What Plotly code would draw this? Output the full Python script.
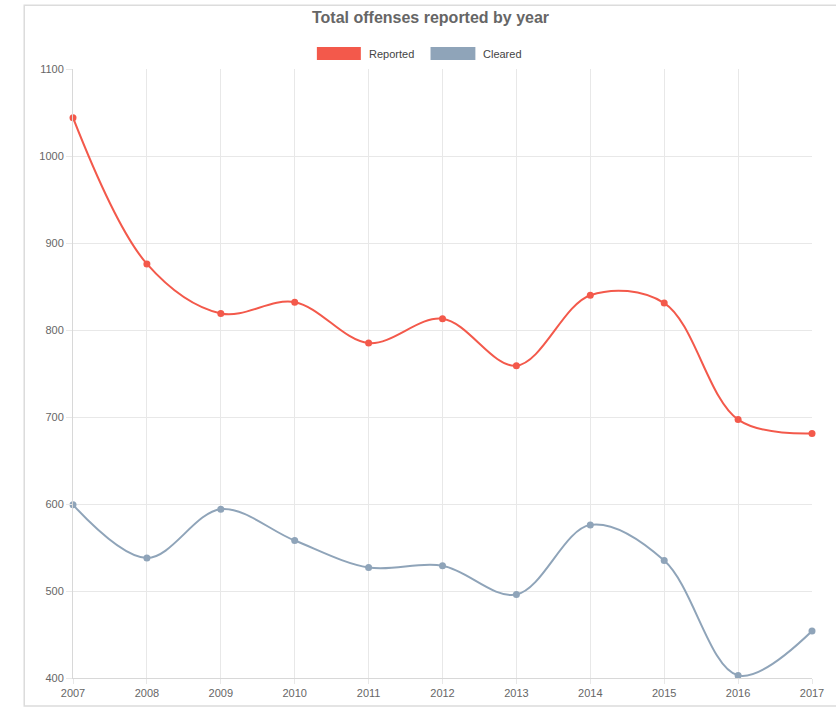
import plotly.graph_objects as go

years = [2007, 2008, 2009, 2010, 2011, 2012, 2013, 2014, 2015, 2016, 2017]
reported = [1044, 876, 819, 832, 785, 813, 759, 840, 831, 697, 681]
cleared = [599, 538, 594, 558, 527, 529, 496, 576, 535, 403, 454]

RED = "#f3594b"
GREY = "#8fa4b9"
TXT = "#666666"
GRID = "#e8e8e8"

fig = go.Figure()
fig.add_trace(go.Scatter(x=years, y=reported, name="Reported", mode="lines+markers",
                         line=dict(color=RED, width=2, shape="spline", smoothing=1.0),
                         marker=dict(color=RED, size=7), showlegend=False, cliponaxis=False))
fig.add_trace(go.Scatter(x=years, y=cleared, name="Cleared", mode="lines+markers",
                         line=dict(color=GREY, width=2, shape="spline", smoothing=1.0),
                         marker=dict(color=GREY, size=7), showlegend=False, cliponaxis=False))

# outer frame (open on the right like the screenshot)
fig.add_shape(type="path", xref="paper", yref="paper",
              path="M 1.05,1.1046 L -0.066,1.1046 L -0.066,-0.0458 L 1.05,-0.0458",
              line=dict(color="#dcdcdc", width=1.5))

# legend boxes drawn by hand (chart.js style)
fig.add_shape(type="rect", xref="paper", yref="paper", x0=0.330, x1=0.3895, y0=1.0147, y1=1.036,
              fillcolor=RED, line=dict(width=0))
fig.add_shape(type="rect", xref="paper", yref="paper", x0=0.4838, x1=0.5445, y0=1.0147, y1=1.036,
              fillcolor=GREY, line=dict(width=0))
fig.add_annotation(text="Reported", xref="paper", yref="paper", x=0.3976, y=1.0253,
                   xanchor="left", yanchor="middle", showarrow=False, font=dict(size=11, color="#444"))
fig.add_annotation(text="Cleared", xref="paper", yref="paper", x=0.5526, y=1.0253,
                   xanchor="left", yanchor="middle", showarrow=False, font=dict(size=11, color="#444"))

fig.update_layout(
    width=836, height=711,
    margin=dict(l=73, r=21, t=69, b=30),
    paper_bgcolor="white", plot_bgcolor="white",
    font=dict(family="Liberation Sans, Arial, sans-serif", size=11, color=TXT),
    title=dict(text="<b>Total offenses reported by year</b>", x=0.515, xanchor="center",
               y=0.975, yanchor="middle", font=dict(size=16, color=TXT)),
)
fig.update_xaxes(range=[2007, 2017], tickmode="array", tickvals=years, showgrid=True,
                 gridcolor=GRID, gridwidth=1, showline=True, linecolor="#d8d8d8",
                 ticks="outside", ticklen=5, tickcolor=GRID, zeroline=False)
fig.update_yaxes(range=[400, 1100], dtick=100, showgrid=True, gridcolor=GRID, gridwidth=1,
                 showline=True, linecolor="#d8d8d8", ticks="outside", ticklen=6,
                 tickcolor=GRID, zeroline=False)

# drop the default body margin so the figure sits at the window's corner
fig.write_html("out.html", config={"displayModeBar": False},
               post_script="document.body.style.margin='0';")
